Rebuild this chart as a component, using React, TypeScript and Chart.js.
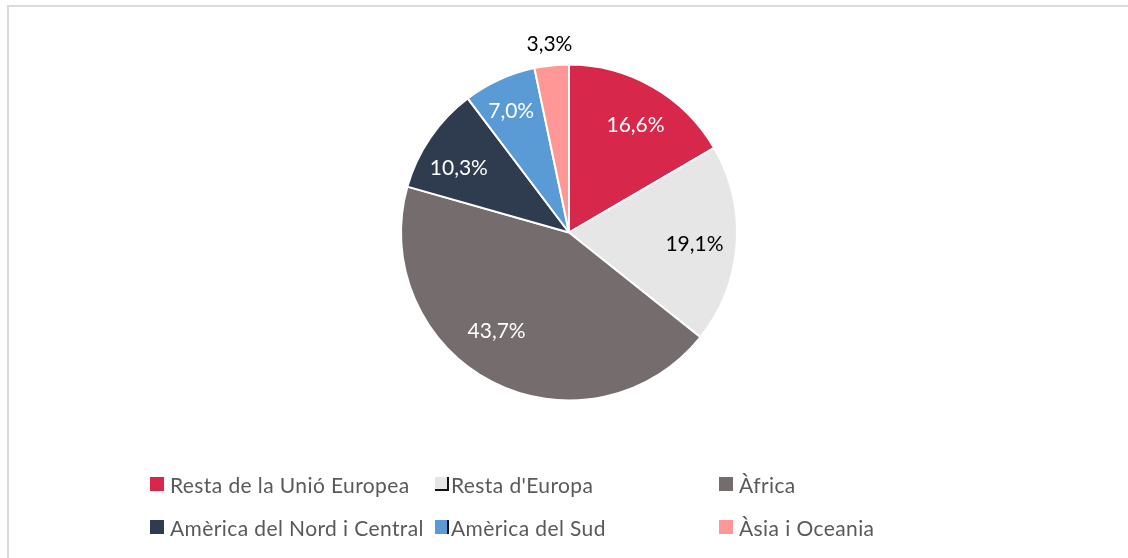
import React, { useEffect, useRef } from "react";
import { Chart, registerables } from "chart.js";

Chart.register(...registerables);

const categories = [
  "Resta de la Unió Europea",
  "Resta d'Europa",
  "Àfrica",
  "Amèrica del Nord i Central",
  "Amèrica del Sud",
  "Àsia i Oceania",
];
const values = [16.6, 19.1, 43.7, 10.3, 7.0, 3.3];
const colors = ["#D7274B", "#E6E6E6", "#756D6D", "#2F3B4E", "#5B9BD5", "#FF9797"];
const labelColors = ["#FFFFFF", "#000000", "#FFFFFF", "#FFFFFF", "#FFFFFF", "#000000"];
const outsideLabel = [false, false, false, false, false, true];
// small label placement tweaks (degrees along the arc, radius fraction)
const labelAngleShift = [2, 1, 9, -4, -1, 0];
const labelRadius = [0.75, 0.75, 0.73, 0.76, 0.8, 0];

const legendOrder = [0, 1, 2, 3, 4, 5];

const FONT = "Lato, 'Open Sans', sans-serif";

const fmt = (v: number) => v.toFixed(1).replace(".", ",") + "%";

const labelPlugin = {
  id: "sliceLabels",
  afterDatasetsDraw(chart: any) {
    const meta = chart.getDatasetMeta(0);
    const ctx = chart.ctx;
    ctx.save();
    ctx.font = `21px ${FONT}`;
    ctx.textAlign = "center";
    ctx.textBaseline = "middle";
    meta.data.forEach((arc: any, i: number) => {
      const p = arc.getProps(["x", "y", "startAngle", "endAngle", "outerRadius"], true);
      const mid = (p.startAngle + p.endAngle) / 2 + (labelAngleShift[i] * Math.PI) / 180;
      const dist = outsideLabel[i] ? p.outerRadius + 21 : p.outerRadius * labelRadius[i];
      const x = p.x + Math.cos(mid) * dist;
      const y = p.y + Math.sin(mid) * dist;
      ctx.fillStyle = labelColors[i];
      ctx.fillText(fmt(values[i]), x, y);
    });
    ctx.restore();
  },
};

function App() {
  const ref = useRef<HTMLCanvasElement | null>(null);
  useEffect(() => {
    if (!ref.current) return;
    const chart = new Chart(ref.current, {
      type: "pie",
      data: {
        labels: categories,
        datasets: [
          {
            data: values,
            backgroundColor: colors,
            borderColor: "#FFFFFF",
            borderWidth: 2,
          },
        ],
      },
      options: {
        responsive: false,
        animation: false,
        layout: { padding: { top: 63, bottom: 156, left: 400, right: 390 } },
        plugins: {
          legend: { display: false },
          tooltip: { enabled: false },
        },
      },
      plugins: [labelPlugin],
    });
    return () => chart.destroy();
  }, []);

  const colX = [150, 435, 719];
  const rowY = [484, 527];

  return (
    <div
      style={{
        position: "fixed",
        left: 0,
        top: 0,
        width: 1128,
        height: 558,
        overflow: "hidden",
        background: "#FFFFFF",
      }}
    >
      <div
        style={{
          position: "absolute",
          left: 7,
          top: 5,
          width: 1300,
          height: 700,
          border: "2px solid #DADADA",
          boxSizing: "border-box",
        }}
      />
      <canvas
        ref={ref}
        width={1128}
        height={558}
        style={{ position: "absolute", left: 0, top: 0, width: 1128, height: 558 }}
      />
      {legendOrder.map((idx, k) => {
        const col = k % 3;
        const row = Math.floor(k / 3);
        const odd = idx === 1 || idx === 4;
        return (
          <div
            key={idx}
            style={{
              position: "absolute",
              left: colX[col],
              top: rowY[row] - 15,
              height: 30,
              display: "flex",
              alignItems: "center",
              fontFamily: FONT,
              fontSize: 21,
              letterSpacing: 0.4,
              color: "#595959",
              whiteSpace: "nowrap",
            }}
          >
            <span
              style={{
                display: "inline-block",
                width: 14,
                height: 14,
                background: colors[idx],
                marginRight: odd ? 2 : 6,
                boxSizing: "border-box",
                borderRight: odd ? "2px solid #111" : "none",
                borderBottom: idx === 1 ? "2px solid #111" : "none",
              }}
            />
            <span>{categories[idx]}</span>
          </div>
        );
      })}
    </div>
  );
}

export default App;
